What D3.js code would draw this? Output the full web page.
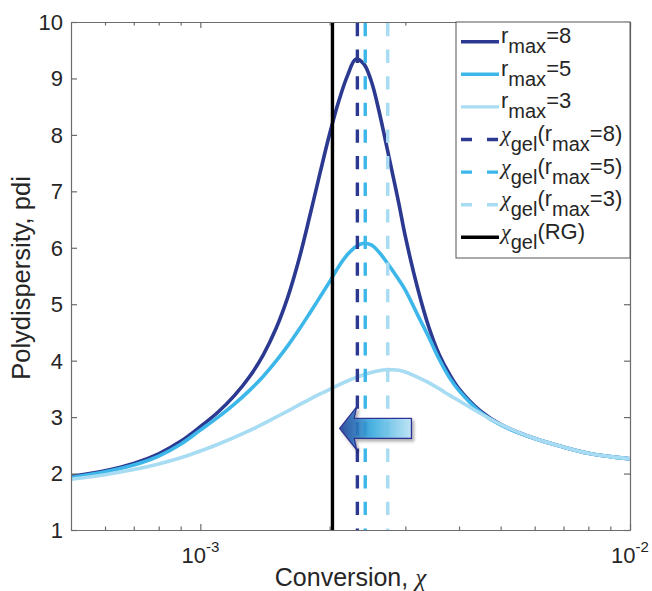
<!DOCTYPE html>
<html>
<head>
<meta charset="utf-8">
<script src="https://cdn.jsdelivr.net/npm/d3@7/dist/d3.min.js"></script>
<style>
  body { margin: 0; background: #fff; }
  text { font-family: "Liberation Sans", Arial, Helvetica, sans-serif; fill: #262626; }
  .greek { font-family: "Liberation Serif", "DejaVu Serif", serif; font-style: italic; }
</style>
</head>
<body>
<div id="chart"></div>
<script>
// conversion grid (x) and polydispersity
var conversion = [5e-4, 6e-4, 7e-4, 8e-4, 9e-4, 1e-3, 1.1e-3, 1.2e-3, 1.3e-3, 1.4e-3,
  1.5e-3, 1.6e-3, 1.7e-3, 1.8e-3, 1.9e-3, 2.0e-3, 2.1e-3, 2.2e-3, 2.3e-3, 2.4e-3,
  2.5e-3, 2.6e-3, 2.7e-3, 2.8e-3, 2.9e-3, 3.0e-3, 3.2e-3, 3.4e-3, 3.6e-3, 3.8e-3,
  4.0e-3, 4.5e-3, 5e-3, 6e-3, 7e-3, 8e-3, 9e-3, 1e-2];
var pdiR8 = [1.95, 2.05, 2.18, 2.35, 2.57, 2.83, 3.09, 3.38, 3.71, 4.10,
  4.57, 5.14, 5.82, 6.58, 7.33, 8.02, 8.60, 9.05, 9.34, 9.26,
  8.95, 8.45, 7.88, 7.32, 6.77, 6.20, 5.30, 4.60, 4.10, 3.76,
  3.50, 3.10, 2.87, 2.62, 2.47, 2.36, 2.30, 2.26];
var pdiR5 = [1.93, 2.03, 2.15, 2.31, 2.52, 2.77, 3.00, 3.23, 3.47, 3.72,
  3.99, 4.27, 4.56, 4.85, 5.13, 5.40, 5.67, 5.88, 6.02, 6.08,
  6.05, 5.93, 5.77, 5.60, 5.43, 5.25, 4.82, 4.42, 4.02, 3.70,
  3.47, 3.08, 2.86, 2.62, 2.47, 2.36, 2.30, 2.26];
var pdiR3 = [1.90, 1.98, 2.07, 2.17, 2.28, 2.40, 2.52, 2.64, 2.76, 2.88,
  3.00, 3.11, 3.22, 3.32, 3.41, 3.49, 3.57, 3.64, 3.70, 3.75,
  3.79, 3.82, 3.84, 3.84, 3.83, 3.80, 3.71, 3.61, 3.50, 3.39,
  3.29, 3.06, 2.87, 2.62, 2.47, 2.36, 2.30, 2.26];

// gel points (vertical lines)
var gelR8 = 2.32e-3;
var gelR5 = 2.42e-3;
var gelR3 = 2.73e-3;
var gelRG = 2.03e-3;

// ticks
var yTicks = [1, 2, 3, 4, 5, 6, 7, 8, 9, 10];
var xMajor = [1e-3, 1e-2];
var xMinor = [6e-4, 7e-4, 8e-4, 9e-4, 2e-3, 3e-3, 4e-3, 5e-3, 6e-3, 7e-3, 8e-3, 9e-3];
var xTickExp = ["-3", "-2"];

// arrow annotation in data units
var arrowTip = [2.11e-3, 2.8];
var arrowTail = 3.1e-3;

var colR8 = "#2b3990";
var colR5 = "#3db7e9";
var colR3 = "#a7dcf3";

var width = 652;
var height = 591;
var margin = { top: 22, right: 22, bottom: 61, left: 71 };

var svg = d3.select("#chart")
  .append("svg")
  .attr("width", width)
  .attr("height", height);

var xScale = d3.scaleLog()
  .domain([5e-4, 1e-2])
  .range([margin.left, width - margin.right]);
var yScale = d3.scaleLinear()
  .domain([1, 10])
  .range([height - margin.bottom, margin.top]);

var defs = svg.append("defs");
defs.append("clipPath").attr("id", "plotClip")
  .append("rect")
  .attr("x", margin.left).attr("y", margin.top)
  .attr("width", width - margin.left - margin.right)
  .attr("height", height - margin.top - margin.bottom);

var grad = defs.append("linearGradient").attr("id", "arrowGrad")
  .attr("x1", "0%").attr("x2", "100%").attr("y1", "0%").attr("y2", "0%");
grad.append("stop").attr("offset", "0%").attr("stop-color", "#1c3d96");
grad.append("stop").attr("offset", "45%").attr("stop-color", "#3aaee2");
grad.append("stop").attr("offset", "100%").attr("stop-color", "#bde6f8");

var shadow = defs.append("filter").attr("id", "shadow")
  .attr("x", "-20%").attr("y", "-20%").attr("width", "140%").attr("height", "160%");
shadow.append("feDropShadow")
  .attr("dx", 2).attr("dy", 2.5).attr("stdDeviation", 1.5)
  .attr("flood-color", "#000").attr("flood-opacity", 0.35);

var plot = svg.append("g").attr("clip-path", "url(#plotClip)");

// curves
var series = [
  { values: pdiR8, color: colR8 },
  { values: pdiR5, color: colR5 },
  { values: pdiR3, color: colR3 }
];

var line = d3.line()
  .x(function(d) { return xScale(d[0]); })
  .y(function(d) { return yScale(d[1]); })
  .curve(d3.curveCatmullRom.alpha(0.5));

series.forEach(function(s) {
  plot.append("path")
    .datum(conversion.map(function(c, i) { return [c, s.values[i]]; }))
    .attr("d", line)
    .attr("fill", "none")
    .attr("stroke", s.color)
    .attr("stroke-width", 3.6)
    .attr("stroke-linejoin", "round");
});

// vertical gel lines
var gelLines = [
  { x: gelR8, color: colR8, dash: "13.3,13.3" },
  { x: gelR5, color: colR5, dash: "13.3,13.3" },
  { x: gelR3, color: colR3, dash: "13.3,13.3" },
  { x: gelRG, color: "#000", dash: null }
];
gelLines.forEach(function(g) {
  plot.append("line")
    .attr("x1", xScale(g.x)).attr("x2", xScale(g.x))
    .attr("y1", yScale(10)).attr("y2", yScale(1))
    .attr("stroke", g.color)
    .attr("stroke-width", 3.4)
    .attr("stroke-dasharray", g.dash)
    .attr("stroke-dashoffset", g.dash ? -1 : null);
});

// arrow pointing left
var tx = xScale(arrowTip[0]);
var ty = yScale(arrowTip[1]);
var ex = xScale(arrowTail);
var headLen = 17, headHalf = 21.5, bodyHalf = 10;
var arrowPts = [
  [tx, ty],
  [tx + headLen, ty - headHalf],
  [tx + headLen - 2.5, ty - bodyHalf],
  [ex, ty - bodyHalf],
  [ex, ty + bodyHalf],
  [tx + headLen - 2.5, ty + bodyHalf],
  [tx + headLen, ty + headHalf]
];
svg.append("path")
  .attr("d", "M" + arrowPts.map(function(p) { return p.join(","); }).join("L") + "Z")
  .attr("fill", "url(#arrowGrad)")
  .attr("fill-opacity", 0.88)
  .attr("stroke", "#2e3192")
  .attr("stroke-width", 1.3)
  .attr("stroke-linejoin", "round")
  .attr("filter", "url(#shadow)");

// axes (box with inward ticks)
var axisColor = "#6b6b6b";
var plotW = width - margin.left - margin.right;
var plotH = height - margin.top - margin.bottom;

function styleAxis(g) {
  g.selectAll("path, line").attr("stroke", axisColor).attr("stroke-width", 1.2);
  g.selectAll("text").remove();
}

svg.append("g")
  .attr("transform", "translate(0," + (height - margin.bottom) + ")")
  .call(d3.axisBottom(xScale).tickValues(xMajor).tickSize(-6).tickSizeOuter(0).tickFormat(""))
  .call(styleAxis);
svg.append("g")
  .attr("transform", "translate(0," + (height - margin.bottom) + ")")
  .call(d3.axisBottom(xScale).tickValues(xMinor).tickSize(-3.5).tickSizeOuter(0).tickFormat(""))
  .call(styleAxis);
svg.append("g")
  .attr("transform", "translate(0," + margin.top + ")")
  .call(d3.axisTop(xScale).tickValues(xMajor).tickSize(-6).tickSizeOuter(0).tickFormat(""))
  .call(styleAxis);
svg.append("g")
  .attr("transform", "translate(0," + margin.top + ")")
  .call(d3.axisTop(xScale).tickValues(xMinor).tickSize(-3.5).tickSizeOuter(0).tickFormat(""))
  .call(styleAxis);
svg.append("g")
  .attr("transform", "translate(" + margin.left + ",0)")
  .call(d3.axisLeft(yScale).tickValues(yTicks).tickSize(-6).tickSizeOuter(0).tickFormat(""))
  .call(styleAxis);
svg.append("g")
  .attr("transform", "translate(" + (width - margin.right) + ",0)")
  .call(d3.axisRight(yScale).tickValues(yTicks).tickSize(-6).tickSizeOuter(0).tickFormat(""))
  .call(styleAxis);

// y tick labels
svg.append("g").selectAll("text")
  .data(yTicks)
  .enter()
  .append("text")
  .attr("x", margin.left - 8)
  .attr("y", function(d) { return yScale(d); })
  .attr("dy", "0.36em")
  .attr("text-anchor", "end")
  .attr("font-size", 22)
  .text(function(d) { return d; });

// x tick labels 10^n
xMajor.forEach(function(v, i) {
  var t = svg.append("text")
    .attr("x", xScale(v))
    .attr("y", height - margin.bottom + 33)
    .attr("text-anchor", "middle")
    .attr("font-size", 22);
  t.append("tspan").text("10");
  t.append("tspan").attr("dy", -11).attr("font-size", 15).text(xTickExp[i]);
});

// axis labels
var xLab = svg.append("text")
  .attr("x", margin.left + plotW / 2)
  .attr("y", height - 5)
  .attr("text-anchor", "middle")
  .attr("font-size", 25);
xLab.append("tspan").text("Conversion, ");
xLab.append("tspan").attr("class", "greek").text("\u03c7");

svg.append("text")
  .attr("transform", "translate(30," + (margin.top + plotH / 2 + 2) + ")rotate(-90)")
  .attr("text-anchor", "middle")
  .attr("font-size", 25.5)
  .text("Polydispersity, pdi");

// legend
var legendParts = [
  [["r", "n"], ["max", "s"], ["=8", "n"]],
  [["r", "n"], ["max", "s"], ["=5", "n"]],
  [["r", "n"], ["max", "s"], ["=3", "n"]],
  [["\u03c7", "g"], ["gel", "s"], ["(r", "n"], ["max", "s"], ["=8)", "n"]],
  [["\u03c7", "g"], ["gel", "s"], ["(r", "n"], ["max", "s"], ["=5)", "n"]],
  [["\u03c7", "g"], ["gel", "s"], ["(r", "n"], ["max", "s"], ["=3)", "n"]],
  [["\u03c7", "g"], ["gel", "s"], ["(RG)", "n"]]
];
var legendColors = [colR8, colR5, colR3, colR8, colR5, colR3, "#000"];
var legendDashed = [false, false, false, true, true, true, false];

var lgX = 456, lgY = margin.top, lgW = width - margin.right - 456, lgH = 236;
var legend = svg.append("g");
legend.append("rect")
  .attr("x", lgX).attr("y", lgY)
  .attr("width", lgW).attr("height", lgH)
  .attr("fill", "#fff")
  .attr("stroke", "#555")
  .attr("stroke-width", 1);

legendParts.forEach(function(parts, i) {
  var ry = lgY + 19.7 + i * 32.6;
  legend.append("line")
    .attr("x1", 461).attr("x2", 499)
    .attr("y1", ry).attr("y2", ry)
    .attr("stroke", legendColors[i])
    .attr("stroke-width", 3.4)
    .attr("stroke-dasharray", legendDashed[i] ? "11,15" : null);
  var t = legend.append("text")
    .attr("x", 501)
    .attr("y", ry + 1.5)
    .attr("font-size", 22);
  var down = false;
  parts.forEach(function(p) {
    var ts = t.append("tspan").text(p[0]);
    if (p[1] === "s") {
      ts.attr("font-size", 20).attr("dy", 10);
      down = true;
    }
    else {
      if (down) { ts.attr("dy", -10); down = false; }
      if (p[1] === "g") ts.attr("class", "greek");
    }
  });
});
</script>
</body>
</html>
